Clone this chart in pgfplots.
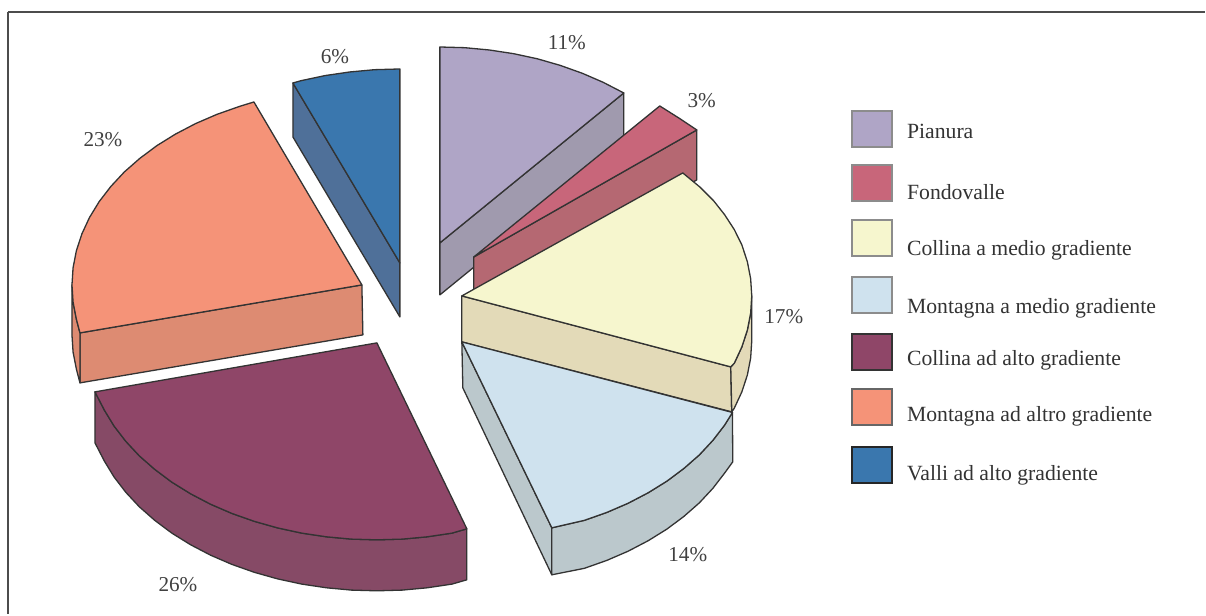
\documentclass[border=0pt]{standalone}
\usepackage{pgfplots}
\pgfplotsset{compat=1.18}
\usepackage{fontspec}
\setmainfont{Liberation Serif}

% top and side colours of the slices
\definecolor{pianT}{HTML}{AFA5C6}\definecolor{pianS}{HTML}{A09AAE}
\definecolor{fondT}{HTML}{C8667A}\definecolor{fondS}{HTML}{B56872}
\definecolor{cmedT}{HTML}{F6F6CE}\definecolor{cmedS}{HTML}{E3DAB8}
\definecolor{mmedT}{HTML}{CFE2EE}\definecolor{mmedS}{HTML}{BBC8CC}
\definecolor{caltT}{HTML}{8F4668}\definecolor{caltS}{HTML}{864A66}
\definecolor{maltT}{HTML}{F59378}\definecolor{maltS}{HTML}{DD8B72}
\definecolor{valT}{HTML}{3A77AE}\definecolor{valS}{HTML}{4F7099}

\tikzset{
  slice/.style={draw=black!80, line width=0.65pt, line join=round},
  swatch/.style={line width=0.9pt},
  lab/.style={font=\fontsize{10.85}{12}\selectfont, text=black!80, inner sep=0pt},
  pct/.style={font=\fontsize{10.6}{12}\selectfont, text=black!75, inner sep=0pt},
}

\begin{document}
\begin{tikzpicture}
  \begin{axis}[
    scale only axis,
    width=603pt,
    height=307.5pt,
    xmin=0, xmax=1206,
    ymin=0, ymax=615,
    y dir=reverse,
    hide axis,
    clip=false,
    ]

    %%% keeps the whole page
    \path (axis cs:0,0) rectangle (axis cs:1206,615);

    %%% frame, open on the right and at the bottom
    \addplot[draw=black!70, line width=0.9pt] coordinates {(8,12) (1205.5,12)};
    \addplot[draw=black!70, line width=0.9pt] coordinates {(8,12) (8,614.5)};

    %%% Pianura
    \addplot[slice, fill=pianS] coordinates {(440,243) (624,93) (624,145) (440,295)} --cycle;
    \addplot[slice, fill=pianT] coordinates {(440,243) (440,47) (464.9,47.7) (489.5,50) (513.8,53.7) (537.5,58.8) (560.4,65.4) (582.5,73.3) (603.5,82.4) (624,93)} --cycle;

    %%% Fondovalle
    \addplot[slice, fill=fondS] coordinates {(474,257) (697,130) (697,180) (474,307)} --cycle;
    \addplot[slice, fill=fondT] coordinates {(474,257) (660,106) (669.5,112) (679,118) (688,124) (697,130)} --cycle;

    %%% Collina a medio gradiente
    \addplot[slice, fill=cmedS] coordinates {(462,296) (731,367) (732,412) (462,342)} --cycle;
    \addplot[slice, fill=cmedS] coordinates {(752,296) (750.9,313.2) (747.6,330.2) (742.1,347) (734.5,363.4) (731,367) (732,412) (734.5,408.4) (742.1,392) (747.6,375.2) (750.9,358.2) (752,341)} --cycle;
    \addplot[slice, fill=cmedT] coordinates {(462,296) (683,173) (700,187) (714,201) (724.8,214.7) (734.5,229.6) (742.1,245) (747.6,261.8) (750.9,278.8) (752,296) (750.9,313.2) (747.6,330.2) (742.1,347) (734.5,363.4) (731,367)} --cycle;

    %%% Montagna a medio gradiente
    \addplot[slice, fill=mmedS] coordinates {(462,342) (552,528) (552,575) (463,388)} --cycle;
    \addplot[slice, fill=mmedS] coordinates {(732.7,412.6) (724.8,425.3) (713.1,440.5) (699.6,455) (684.1,468.6) (667.1,481.3) (648.4,492.9) (628.3,503.4) (607,512.6) (584.6,520.5) (552,528) (552,575) (584.6,568.5) (607,560.6) (628.3,551.4) (648.4,540.9) (667.1,529.3) (684.1,516.6) (699.6,503) (713.1,488.5) (724.8,473.3) (733,462)} --cycle;
    \addplot[slice, fill=mmedT] coordinates {(462,342) (732.7,412.6) (724.8,425.3) (713.1,440.5) (699.6,455) (684.1,468.6) (667.1,481.3) (648.4,492.9) (628.3,503.4) (607,512.6) (584.6,520.5) (552,528)} --cycle;

    %%% Collina ad alto gradiente
    \addplot[slice, fill=caltS] coordinates {(467,529) (452.1,533.3) (427.3,537) (402.3,539.3) (377,540) (351.7,539.3) (326.7,537) (301.9,533.3) (277.8,528.1) (254.4,521.5) (232,513.6) (210.7,504.4) (190.6,493.9) (171.9,482.3) (154.9,469.6) (139.4,456) (125.9,441.5) (114.2,426.3) (104.5,410.4) (95,392) (95,443) (104.5,461.4) (114.2,477.3) (125.9,492.5) (139.4,507) (154.9,520.6) (171.9,533.3) (190.6,544.9) (210.7,555.4) (232,564.6) (254.4,572.5) (277.8,579.1) (301.9,584.3) (326.7,588) (351.7,590.3) (377,591) (402.3,590.3) (427.3,588) (452.1,584.3) (467,580)} --cycle;
    \addplot[slice, fill=caltT] coordinates {(377,343) (467,529) (452.1,533.3) (427.3,537) (402.3,539.3) (377,540) (351.7,539.3) (326.7,537) (301.9,533.3) (277.8,528.1) (254.4,521.5) (232,513.6) (210.7,504.4) (190.6,493.9) (171.9,482.3) (154.9,469.6) (139.4,456) (125.9,441.5) (114.2,426.3) (104.5,410.4) (95,392)} --cycle;

    %%% Montagna ad alto gradiente
    \addplot[slice, fill=maltS] coordinates {(80,333) (362,285) (363,335) (80,383)} --cycle;
    \addplot[slice, fill=maltS] coordinates {(72,285) (73.1,302.2) (76.4,319.2) (80,333) (80,383) (76.4,369.2) (73.1,352.2) (72,335)} --cycle;
    \addplot[slice, fill=maltT] coordinates {(362,285) (254,102) (239.4,106.5) (217,114.4) (195.7,123.6) (175.6,134.1) (156.9,145.7) (139.9,158.4) (124.4,172) (110.9,186.5) (99.2,201.7) (89.5,217.6) (81.9,234) (76.4,250.8) (73.1,267.8) (72,285) (73.1,302.2) (76.4,319.2) (80,333)} --cycle;

    %%% Valli ad alto gradiente
    \addplot[slice, fill=valS] coordinates {(293,83) (400,263) (400,317) (293,137)} --cycle;
    \addplot[slice, fill=valT] coordinates {(400,263) (400,69) (374.8,69.7) (349.8,72) (325.2,75.6) (301.2,80.7) (293,83)} --cycle;

    %%% percentages
    \node[pct] at (axis cs:567,43) {11\%};
    \node[pct] at (axis cs:702,101) {3\%};
    \node[pct] at (axis cs:784,317) {17\%};
    \node[pct] at (axis cs:688,555) {14\%};
    \node[pct] at (axis cs:178,585) {26\%};
    \node[pct] at (axis cs:103,140) {23\%};
    \node[pct] at (axis cs:335,57) {6\%};

    %%% legend swatches
    \addplot[swatch, draw=black!45, fill=pianT] coordinates {(852,111) (892,111) (892,147) (852,147)} --cycle;
    \addplot[swatch, draw=black!45, fill=fondT] coordinates {(852,165) (892,165) (892,201) (852,201)} --cycle;
    \addplot[swatch, draw=black!45, fill=cmedT] coordinates {(852,220) (892,220) (892,256) (852,256)} --cycle;
    \addplot[swatch, draw=black!45, fill=mmedT] coordinates {(852,277) (892,277) (892,313) (852,313)} --cycle;
    \addplot[swatch, draw=black!80, fill=caltT] coordinates {(852,334) (892,334) (892,370) (852,370)} --cycle;
    \addplot[swatch, draw=black!60, fill=maltT] coordinates {(852,389) (892,389) (892,425) (852,425)} --cycle;
    \addplot[swatch, draw=black!85, fill=valT] coordinates {(852,447) (892,447) (892,483) (852,483)} --cycle;

    %%% legend labels
    \node[lab, anchor=west] at (axis cs:907,131) {Pianura};
    \node[lab, anchor=west] at (axis cs:907,192) {Fondovalle};
    \node[lab, anchor=west] at (axis cs:907,250) {Collina a medio gradiente};
    \node[lab, anchor=west] at (axis cs:907,308) {Montagna a medio gradiente};
    \node[lab, anchor=west] at (axis cs:907,360) {Collina ad alto gradiente};
    \node[lab, anchor=west] at (axis cs:907,416) {Montagna ad altro gradiente};
    \node[lab, anchor=west] at (axis cs:907,475) {Valli ad alto gradiente};
  \end{axis}
\end{tikzpicture}
\end{document}
